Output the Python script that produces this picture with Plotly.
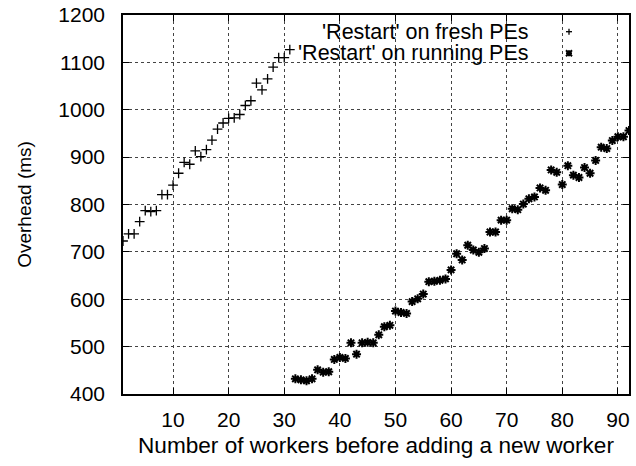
import plotly.graph_objects as go

# 'Restart' on fresh PEs
fresh_x = list(range(1, 32))
fresh_y = [723, 738, 738, 764, 787, 785, 787, 821, 821, 841,
           866, 889, 885, 913, 901, 916, 936, 959, 972, 982,
           983, 990, 1009, 1019, 1056, 1042, 1065, 1090, 1110, 1110,
           1127]

# 'Restart' on running PEs
running_x = list(range(32, 93))
running_y = [432, 430, 428, 432, 451, 446, 447, 473, 477, 475,
             508, 484, 508, 509, 508, 525, 542, 545, 575, 572,
             570, 595, 601, 611, 637, 638, 640, 643, 662, 696,
             683, 714, 704, 699, 707, 742, 742, 767, 767, 791,
             789, 801, 812, 816, 835, 830, 873, 868, 842, 882,
             862, 857, 878, 866, 893, 921, 918, 935, 943, 943,
             956]

x_ticks = [10, 20, 30, 40, 50, 60, 70, 80, 90]
y_ticks = [400, 500, 600, 700, 800, 900, 1000, 1100, 1200]

W, H = 636, 466
ml, mr, mt, mb = 123, 7, 15, 72
pw, ph = W - ml - mr, H - mt - mb


def px(x):
    return (x - ml) / pw


def py(y):
    return (H - mb - y) / ph


FONT = "Liberation Sans, Arial, Helvetica, sans-serif"

fig = go.Figure()
fig.add_trace(go.Scatter(
    x=fresh_x, y=fresh_y, mode="markers", name="'Restart' on fresh PEs",
    marker=dict(symbol="cross-thin-open", size=7, color="black",
                line=dict(color="black", width=1.3)),
    showlegend=False))
fig.add_trace(go.Scatter(
    x=running_x, y=running_y, mode="markers", name="'Restart' on running PEs",
    marker=dict(symbol="asterisk-open", size=7.5, color="black",
                line=dict(color="black", width=2)),
    showlegend=False))

# key area blanks the grid like gnuplot does
fig.add_shape(type="rect", xref="paper", yref="paper",
              x0=px(207), x1=px(612), y0=py(65), y1=1,
              fillcolor="white", line_width=0, layer="between")

# key: text right-aligned, sample on the right
keys = [("'Restart' on fresh PEs", 31.7, "plus"), ("'Restart' on running PEs", 53.3, "star")]
for txt, yy, kind in keys:
    fig.add_annotation(x=px(531), y=py(yy), xref="paper", yref="paper",
                       text=txt, showarrow=False, xanchor="right", yanchor="middle",
                       font=dict(family=FONT, size=21.5, color="black"))
    cx, cy = px(569), py(yy)
    dx, dy = 3 / pw, 3 / ph
    segs = [(cx - dx, cy, cx + dx, cy), (cx, cy - dy, cx, cy + dy)]
    if kind == "star":
        segs += [(cx - dx, cy - dy, cx + dx, cy + dy), (cx - dx, cy + dy, cx + dx, cy - dy)]
    for x0, y0, x1, y1 in segs:
        fig.add_shape(type="line", xref="paper", yref="paper",
                      x0=x0, y0=y0, x1=x1, y1=y1,
                      line=dict(color="black", width=1.3 if kind == "plus" else 2))

axis_common = dict(
    showline=True, linecolor="black", linewidth=1.5, mirror="ticks",
    ticks="inside", ticklen=6, tickcolor="black", tickwidth=1.2,
    showgrid=True, gridcolor="#444", griddash="dot", gridwidth=1,
    zeroline=False, automargin=False,
    tickfont=dict(family=FONT, size=21, color="black"),
)

fig.update_xaxes(range=[1, 92], tickvals=x_ticks,
                 title=dict(text="Number of workers before adding a new worker",
                            font=dict(family=FONT, size=22.6, color="black"), standoff=7),
                 ticklabelstandoff=6, **axis_common)
fig.update_yaxes(range=[400, 1200], tickvals=y_ticks,
                 title=dict(text="Overhead (ms)",
                            font=dict(family=FONT, size=19, color="black"), standoff=22),
                 ticklabelstandoff=12, **axis_common)

fig.update_layout(
    width=W, height=H,
    margin=dict(l=ml, r=mr, t=mt, b=mb),
    plot_bgcolor="white", paper_bgcolor="white",
    font=dict(family=FONT, size=21, color="black"),
)

# drop the page's default body margin so the figure sits at the window's corner
fig.write_html("out.html", config={"displayModeBar": False},
               post_script="document.body.style.margin='0';document.body.style.overflow='hidden';")
